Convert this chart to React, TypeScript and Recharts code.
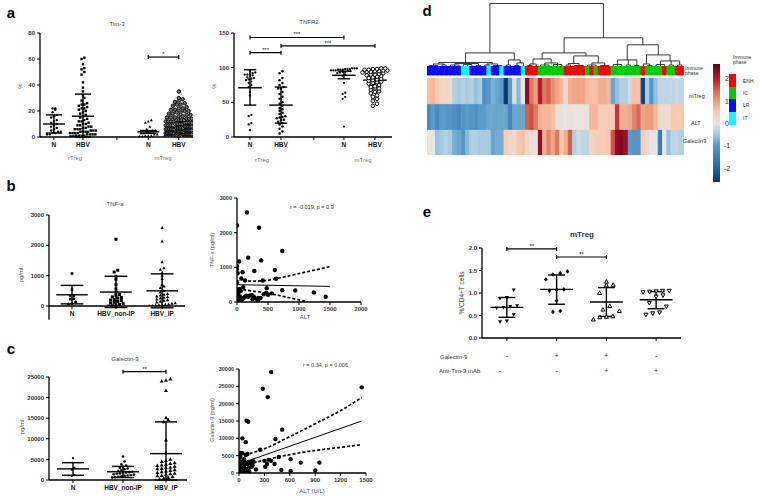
import React from 'react';
import {
  ScatterChart, Scatter, ComposedChart, Line, BarChart, Bar, Cell,
  XAxis, YAxis, ReferenceLine, ReferenceDot,
} from 'recharts';

const FONT = '"Liberation Sans", Arial, Helvetica, sans-serif';

// ---------- a: Tim-3 ----------
const tim3RTregN = [22, 22, 21, 19, 17, 16, 15, 13, 12, 11, 10, 9, 8, 7, 6, 5, 4, 4, 3, 3, 2, 2];
const tim3RTregHBV = [61, 60, 56, 53, 52, 50, 48, 42, 38, 35, 32, 30, 28, 26, 25, 25, 24, 23, 22, 22, 21, 20, 19, 18, 17, 16, 15, 14, 13, 12, 12, 11, 10, 10, 9, 9, 8, 8, 7, 7, 6, 6, 6, 5, 5, 5, 4, 4, 4, 4, 3, 3, 3, 3, 2, 2, 2, 2, 1, 1, 1, 1, 0.5, 0.5];
const tim3MTregN = [13, 12, 11, 8, 6, 5, 5, 4, 4, 3, 3, 2, 2, 1, 1, 1, 0.5, 0.5];
const tim3MTregHBV = [35, 30, 29, 28, 27, 26, 25, 25, 24, 23, 22, 22, 21, 21, 20, 20, 19, 19, 18, 18, 17, 17, 16, 16, 15, 15, 15, 14, 14, 14, 13, 13, 13, 13, 12, 12, 12, 12, 11, 11, 11, 11, 10, 10, 10, 10, 9, 9, 9, 9, 8, 8, 8, 8, 8, 7, 7, 7, 7, 7, 6, 6, 6, 6, 6, 6, 5, 5, 5, 5, 5, 5, 4, 4, 4, 4, 4, 4, 4, 3, 3, 3, 3, 3, 3, 3, 2, 2, 2, 2, 2, 2, 2, 1, 1, 1, 1, 1, 1, 1, 0.5, 0.5, 0.5, 0.5, 0.5];
const tim3Mean = [10, 16, 4, 9.5];
const tim3Low = [3, 0, 2.8, 7];
const tim3High = [17, 33, 5, 12];

// ---------- a: TNFR2 ----------
const tnfr2RTregN = [95, 93, 92, 91, 90, 90, 89, 88, 86, 85, 84, 83, 82, 80, 78, 75, 72, 65, 60, 32, 30, 20, 18, 10];
const tnfr2RTregHBV = [95, 92, 85, 82, 78, 75, 72, 70, 70, 65, 62, 58, 55, 50, 48, 45, 42, 40, 38, 35, 33, 30, 29, 28, 27, 25, 24, 22, 20, 18, 15, 12, 8, 5];
const tnfr2MTregN = [99, 99, 99, 98, 98, 98, 97, 97, 97, 96, 96, 96, 95, 95, 94, 94, 93, 92, 90, 88, 78, 64, 62, 58, 55, 15];
const tnfr2MTregHBV = [99, 99, 98, 98, 97, 97, 96, 96, 95, 95, 94, 94, 93, 92, 91, 90, 90, 89, 88, 87, 86, 85, 84, 83, 82, 81, 80, 79, 78, 77, 75, 73, 72, 70, 70, 68, 66, 65, 63, 60, 58, 55, 52, 48, 45];
const tnfr2Mean = [71, 46, 89, 82];
const tnfr2Low = [46, 20, 84, 74];
const tnfr2High = [97, 72, 95, 90];

// ---------- b: TNF-a ----------
const tnfN = [1070, 540, 350, 350, 240, 230, 130, 80, 70];
const tnfNonIP = [2200, 1180, 1120, 980, 880, 700, 560, 450, 380, 350, 300, 280, 260, 220, 200, 180, 150, 120, 100, 80, 50, 30, 10, 0];
const tnfIP = [2580, 2130, 1450, 1250, 1200, 1100, 1000, 900, 700, 650, 600, 500, 450, 400, 380, 350, 320, 300, 280, 250, 220, 200, 180, 150, 120, 100, 80, 60, 50, 40, 30, 20, 10, 5];
const tnfMean = [370, 460, 500];
const tnfLow = [70, -50, -60];
const tnfHigh = [680, 980, 1060];

const altB = [0, 160, 355, 35, 0, 0, 180, 390, 730, 610, 280, 10, 90, 130, 70, 0, 0, 415, 630, 100, 480, 40, 0, 60, 1430, 1240, 940, 730, 560, 500, 430, 350, 330, 300, 270, 240, 200, 180, 150, 130, 110, 90, 70, 50, 30, 10, 0, 0, 0, 20, 60, 250, 380, 470, 340, 20, 45];
const tnfB = [2210, 2580, 2140, 1170, 1040, 950, 1280, 1200, 1470, 925, 895, 830, 860, 620, 680, 580, 560, 620, 670, 430, 400, 380, 350, 320, 150, 275, 335, 340, 250, 210, 220, 120, 90, 100, 150, 200, 180, 150, 180, 150, 120, 90, 60, 40, 20, 10, 200, 100, 50, 250, 130, 80, 120, 270, 50, 300, 160];
const fitBX = [0, 1500];
const fitBY = [500, 450];
const upperBX = [100, 250, 450, 700, 1000, 1500];
const upperBY = [640, 600, 615, 700, 820, 1020];
const lowerBX = [20, 200, 400, 700, 1000, 1150];
const lowerBY = [380, 330, 280, 180, 60, 0];

// ---------- c: Galectin-9 ----------
const galN = [5300, 3000, 2500, 1200, 1000];
const galNonIP = [5700, 4500, 3800, 3500, 3200, 3000, 2800, 2600, 2400, 2200, 2000, 1900, 1800, 1700, 1600, 1500, 1400, 1300, 1200, 1100, 1000, 900, 800, 700, 600];
const galIP = [24500, 24200, 24000, 21700, 15100, 14600, 14100, 9700, 6600, 5000, 4700, 4500, 4200, 4000, 3800, 3600, 3500, 3300, 3100, 3000, 2800, 2700, 2500, 2300, 2200, 2000, 1800, 1600, 1500, 1300, 1100, 1000, 800, 600, 400, 200];
const galMean = [2700, 2000, 6400];
const galLow = [1150, 600, 0];
const galHigh = [4200, 3300, 14100];

const altC = [1450, 380, 280, 340, 90, 110, 510, 40, 80, 430, 250, 470, 610, 730, 950, 900, 500, 610, 420, 300, 330, 350, 380, 310, 200, 150, 160, 120, 100, 80, 60, 40, 20, 10, 0, 0, 0, 0, 0, 0, 20, 30, 40, 60, 70, 80, 100, 110, 120, 140, 150, 170, 50, 90, 30, 15];
const galC = [24700, 29100, 24300, 21900, 15100, 14800, 12500, 10000, 8900, 9800, 6700, 4600, 4000, 3000, 3000, 700, 900, 600, 2600, 3500, 2600, 3800, 3500, 1800, 1000, 3300, 2200, 1600, 5500, 5200, 4000, 5700, 5800, 4500, 3500, 2800, 2000, 1500, 1000, 500, 2500, 1500, 800, 2000, 3000, 1200, 2500, 3200, 500, 2800, 1800, 3400, 300, 600, 3300, 4800];
const fitCX = [0, 1450];
const fitCY = [2600, 15000];
const upperCX = [70, 300, 600, 900, 1200, 1450];
const upperCY = [5200, 7000, 10500, 14200, 18000, 21800];
const lowerCX = [0, 300, 600, 900, 1200, 1450];
const lowerCY = [1800, 3700, 5300, 6500, 7400, 8200];

// ---------- d: heatmap ----------
const immunePhase = [
  'LR', 'LR', 'LR', 'LR', 'LR', 'LR', 'LR', 'LR', 'IT', 'IT',
  'LR', 'LR', 'LR', 'LR', 'IT', 'LR', 'LR', 'IT', 'LR', 'LR',
  'LR', 'LR', 'IT', 'ENH', 'ENH', 'ENH', 'IC', 'IC', 'IC', 'IC',
  'IC', 'IC', 'ENH', 'ENH', 'ENH', 'ENH', 'ENH', 'IC', 'ENH', 'IC',
  'ENH', 'ENH', 'ENH', 'IC', 'IC', 'IC', 'IC', 'IC', 'IC', 'IC',
  'ENH', 'IC', 'IC', 'IC', 'IC', 'ENH', 'IC', 'IC', 'ENH', 'ENH',
];
const zMTreg = [
  0.6, 0.7, 0.5, 0.3, 0.3, 0.2, -0.4, -0.5, -0.4, -0.5,
  -0.4, -0.6, -0.5, -1.2, -1.1, -0.8, -0.9, -1.0, -2.6, -1.0,
  -0.1, -0.7, 0.0, 2.3, 1.3, 1.0, 2.0, 1.3, 1.5, 1.1,
  0.9, 0.7, 0.2, 0.8, 0.9, 0.9, 0.9, 0.7, 0.6, 0.6,
  0.8, 0.8, 0.7, -0.9, -0.6, -0.4, -0.4, -0.2, 0.6, 0.6,
  -2.5, -0.5, -1.1, -0.6, -0.3, -0.3, -0.3, -0.3, -0.25, -0.3,
];
const zALT = [
  -1.3, -1.0, -1.3, -1.0, -1.1, -1.1, -1.2, -1.3, -1.1, -1.0,
  -1.1, -1.2, -1.0, -1.0, -0.9, -0.9, -0.9, -0.9, -0.9, -1.4,
  -0.9, -0.9, -0.9, 1.5, 1.6, 1.3, 0.8, 0.7, 0.7, 0.6,
  0.1, 0.05, 0.0, 0.05, 0.0, 0.05, 0.05, 0.05, 0.7, 0.7,
  0.4, 0.4, 0.4, 0.4, 1.8, 0.8, 0.8, 0.9, 1.2, 1.4,
  0.9, 1.0, 1.0, 0.7, 0.2, 0.15, 0.2, 0.5, 0.5, 0.5,
];
const zGal9 = [
  0.0, 0.0, -0.6, -0.5, -0.4, -0.5, -0.8, -0.9, -1.1, -0.7,
  -0.4, -0.4, -0.5, -0.5, -0.5, -0.9, -0.8, -0.8, 0.4, 0.3,
  0.2, 0.5, 0.6, 0.3, 0.1, 0.05, 2.3, 0.8, 1.2, 0.9,
  1.3, 0.5, 0.8, 1.5, -0.4, -0.2, -0.3, -0.3, 0.3, 0.4,
  0.4, 0.4, 0.5, 1.6, 2.3, 2.4, 2.2, -1.0, -1.1, -1.1,
  0.4, 0.2, 0.0, 0.0, -1.6, 0.0, -0.6, -0.3, -0.3, -0.4,
];
// [height, ...children]; a bare number is a leaf (column index)
const dendroTree: any = [63,
  [14,
    [4.5, [3, [1.5, 0, 1, 2], [2, 3, 4]], [3.5, [2, 5, 6, 7], [2.5, 8, 9, 10], [1.5, 11, 12]], [3, [2, 13, 14], [1.5, 15, 16, 17]]],
    [7, [2, 18, 19], [4, [1.5, 20, 21], 22]]],
  [29,
    [14,
      [8, [3, [1.5, 23, 24], 25], [4, [2, 26, 27, 28], [2.5, 29, 30, 31]]],
      [11, [3.5, [2, 32, 33], [1.5, 34, 35, 36]], [4, [2, 37, 38, 39], [1.5, 40, 41, 42]]]],
    [22,
      [7, [2.5, 43, 44, 45], [2, 46, 47], [1.5, 48, 49]],
      [12, [3, 50, [1.5, 51, 52]], [6, [2.5, 53, 54, 55], [2, 56, 57], [2, 58, 59]]]]]];
const phaseNames = ['ENH', 'IC', 'LR', 'IT'];
const phaseColors: any = { ENH: '#ff0000', IC: '#00cc00', LR: '#0a0aff', IT: '#00ffff' };
const scaleTicks = [2, 1, 0, -1, -2];

// ---------- e: mTreg ----------
const eGal = ['-', '+', '+', '-'];
const eAnti = ['-', '-', '+', '+'];
const eG1 = [1.07, 0.9, 0.88, 0.72, 0.70, 0.68, 0.67, 0.52, 0.38, 0.36];
const eG2 = [1.48, 1.44, 1.41, 1.3, 1.08, 1.07, 1.05, 0.83, 0.6, 0.58];
const eG3 = [1.25, 1.18, 1.17, 1.0, 0.71, 0.63, 0.6, 0.48, 0.47, 0.46, 0.41];
const eG4 = [1.05, 1.05, 1.04, 1.03, 1.02, 0.95, 0.92, 0.78, 0.7, 0.57, 0.55, 0.52];
const eMean = [0.68, 1.08, 0.8, 0.85];
const eLow = [0.46, 0.75, 0.48, 0.65];
const eHigh = [0.9, 1.4, 1.12, 1.03];

// ---------- helpers ----------
const axisLine = { stroke: '#000', strokeWidth: 1.3 };
const tickLine = { stroke: '#000', strokeWidth: 1 };
const tickFont = { fontSize: 6, fontWeight: 700, fill: '#333', fontFamily: FONT };

const zStops: [number, string][] = [
  [-2.6, '#0a3a6b'], [-2, '#2166ac'], [-1, '#5b9bc9'], [-0.5, '#a6cbe3'], [0, '#e8e4e2'],
  [0.5, '#f9c9ae'], [1, '#ec9c7d'], [1.5, '#d4604f'], [2, '#b31b2c'], [2.6, '#6b0019'],
];
function hex(c: string) { return [1, 3, 5].map((i) => parseInt(c.slice(i, i + 2), 16)); }
function zColor(v: number) {
  if (v <= zStops[0][0]) return zStops[0][1];
  for (let i = 1; i < zStops.length; i++) {
    if (v <= zStops[i][0]) {
      const [a, ca] = zStops[i - 1]; const [b, cb] = zStops[i];
      const t = (v - a) / (b - a);
      const A = hex(ca), B = hex(cb);
      return `rgb(${A.map((x, k) => Math.round(x + (B[k] - x) * t)).join(',')})`;
    }
  }
  return zStops[zStops.length - 1][1];
}

function swarm(values: number[], pos: number, binV: number, stepX: number, maxHalf: number) {
  const sorted = [...values].sort((a, b) => a - b);
  const rows: number[][] = [];
  let cur: number[] = [];
  let start = -Infinity;
  sorted.forEach((v) => {
    if (v - start > binV) { if (cur.length) rows.push(cur); cur = [v]; start = v; } else cur.push(v);
  });
  if (cur.length) rows.push(cur);
  const pts: { x: number; y: number }[] = [];
  rows.forEach((row) => {
    const n = row.length;
    const s = n > 1 ? Math.min(stepX, (2 * maxHalf) / (n - 1)) : 0;
    row.forEach((v, j) => pts.push({ x: pos + (j - (n - 1) / 2) * s, y: v }));
  });
  return pts;
}

function marker(kind: string, s: number) {
  return (p: any) => {
    const { cx, cy } = p;
    if (cx == null || cy == null) return <g />;
    const r = s / 2;
    const up = `M${cx},${cy - r * 1.2}L${cx + r * 1.1},${cy + r * 0.8}L${cx - r * 1.1},${cy + r * 0.8}Z`;
    const dn = `M${cx},${cy + r * 1.2}L${cx + r * 1.1},${cy - r * 0.8}L${cx - r * 1.1},${cy - r * 0.8}Z`;
    switch (kind) {
      case 'none': return <g />;
      case 'square': return <rect x={cx - r} y={cy - r} width={s} height={s} fill="#000" />;
      case 'tri': return <path d={up} fill="#000" />;
      case 'itri': return <path d={dn} fill="#000" />;
      case 'otri': return <path d={up} fill="#fff" stroke="#000" strokeWidth={1} />;
      case 'oitri': return <path d={dn} fill="#fff" stroke="#000" strokeWidth={1} />;
      case 'diamond': return <path d={`M${cx},${cy - r * 1.2}L${cx + r},${cy}L${cx},${cy + r * 1.2}L${cx - r},${cy}Z`} fill="#000" />;
      case 'ocircle': return <circle cx={cx} cy={cy} r={r} fill="#fff" stroke="#000" strokeWidth={1} />;
      case 'gcircle': return <circle cx={cx} cy={cy} r={r} fill="#777" stroke="#000" strokeWidth={1} />;
      default: return <circle cx={cx} cy={cy} r={r} fill="#000" />;
    }
  };
}

function zip(xs: number[], ys: number[]) { return xs.map((x, i) => ({ x, y: ys[i] })); }

function T({ x, y, s = 6, w = 400, c = '#222', a = 'middle', r = 0, children }: any) {
  const tx = a === 'middle' ? '-50%' : a === 'end' ? '-100%' : '0';
  return (
    <div style={{
      position: 'absolute', left: x, top: y, fontSize: s, fontWeight: w, color: c, whiteSpace: 'nowrap',
      lineHeight: 1, fontFamily: FONT, transform: `translate(${tx}, -50%) rotate(${r}deg)`,
    }}>{children}</div>
  );
}

function DotPlot({ cfg }: { cfg: any }) {
  const padL = 36, padT = 16, padR = 8, axH = 14;
  const [xa, xb] = cfg.xDomain; const [ya, yb] = cfg.yDomain;
  const xu = (xb - xa) / cfg.w;
  const yu = (yb - ya) / cfg.h;
  const tv = 2 * yu;
  return (
    <div style={{ position: 'absolute', left: cfg.x0 - padL, top: cfg.y0 - padT }}>
      <ScatterChart width={cfg.w + padL + padR} height={cfg.h + padT + axH} margin={{ top: padT, right: padR, bottom: 0, left: 0 }}>
        <XAxis type="number" dataKey="x" domain={cfg.xDomain} ticks={cfg.xTicks} interval={0} allowDataOverflow
          tickFormatter={(v: number) => cfg.xLabels[cfg.xTicks.indexOf(v)] ?? ''} height={axH} tickSize={3}
          tick={{ ...tickFont, fontSize: 6.5, fill: '#111' }} axisLine={axisLine} tickLine={tickLine} />
        <YAxis type="number" dataKey="y" domain={cfg.yDomain} ticks={cfg.yTicks} interval={0} allowDataOverflow
          width={padL} tickSize={3} tick={tickFont} axisLine={axisLine} tickLine={tickLine} tickFormatter={cfg.yFmt} />
        {cfg.groups.map((g: any, i: number) => (
          <Scatter key={`s${i}`} data={swarm(g.values, g.pos, cfg.binPx * yu, g.size * cfg.stepK * xu, cfg.spreadPx * xu)}
            shape={marker(g.shape, g.size)} isAnimationActive={false} />
        ))}
        {cfg.groups.map((g: any, i: number) => [
          <ReferenceLine key={`m${i}`} segment={[{ x: g.pos - cfg.meanHalf, y: g.mean }, { x: g.pos + cfg.meanHalf, y: g.mean }]} stroke="#000" strokeWidth={1.4} ifOverflow="visible" />,
          <ReferenceLine key={`h${i}`} segment={[{ x: g.pos - cfg.capHalf, y: g.high }, { x: g.pos + cfg.capHalf, y: g.high }]} stroke="#000" strokeWidth={1.4} ifOverflow="visible" />,
          <ReferenceLine key={`l${i}`} segment={[{ x: g.pos - cfg.capHalf, y: g.low }, { x: g.pos + cfg.capHalf, y: g.low }]} stroke="#000" strokeWidth={1.4} ifOverflow="visible" />,
          <ReferenceLine key={`v${i}`} segment={[{ x: g.pos, y: g.low }, { x: g.pos, y: g.high }]} stroke="#000" strokeWidth={1.4} ifOverflow="visible" />,
        ])}
        {(cfg.brackets || []).map((b: any, i: number) => [
          <ReferenceLine key={`b${i}`} segment={[{ x: b.x1, y: b.y }, { x: b.x2, y: b.y }]} stroke="#000" strokeWidth={1.2} ifOverflow="visible" />,
          <ReferenceLine key={`bl${i}`} segment={[{ x: b.x1, y: b.y - tv }, { x: b.x1, y: b.y + tv }]} stroke="#000" strokeWidth={1.2} ifOverflow="visible" />,
          <ReferenceLine key={`br${i}`} segment={[{ x: b.x2, y: b.y - tv }, { x: b.x2, y: b.y + tv }]} stroke="#000" strokeWidth={1.2} ifOverflow="visible" />,
          <ReferenceDot key={`bt${i}`} x={(b.x1 + b.x2) / 2} y={b.y} r={0.01} fill="none" stroke="none" ifOverflow="visible"
            label={{ value: b.label, position: 'top', offset: 1, fontSize: 6, fill: '#222', fontFamily: FONT }} />,
        ])}
        {cfg.axisExt != null && (
          <ReferenceLine segment={[{ x: xa, y: ya }, { x: xa, y: cfg.axisExt }]} stroke="#000" strokeWidth={1.3} ifOverflow="visible" />
        )}
      </ScatterChart>
    </div>
  );
}

function CorrPlot({ cfg }: { cfg: any }) {
  const padL = 34, padT = 8, padR = 10, axH = 14;
  return (
    <div style={{ position: 'absolute', left: cfg.x0 - padL, top: cfg.y0 - padT }}>
      <ComposedChart width={cfg.w + padL + padR} height={cfg.h + padT + axH} margin={{ top: padT, right: padR, bottom: 0, left: 0 }}>
        <XAxis type="number" dataKey="x" domain={cfg.xDomain} ticks={cfg.xTicks} interval={0} allowDataOverflow height={axH}
          tickSize={3} tick={tickFont} axisLine={axisLine} tickLine={tickLine} />
        <YAxis type="number" dataKey="y" domain={cfg.yDomain} ticks={cfg.yTicks} interval={0} allowDataOverflow width={padL}
          tickSize={3} tick={{ ...tickFont, fontSize: 5.5 }} axisLine={axisLine} tickLine={tickLine} />
        <Scatter data={cfg.points} shape={marker('circle', 4.4)} isAnimationActive={false} />
        <Line data={cfg.fit} dataKey="y" type="linear" stroke="#000" strokeWidth={1} dot={false} isAnimationActive={false} />
        <Line data={cfg.upper} dataKey="y" type="monotone" stroke="#000" strokeWidth={1.7} strokeDasharray="3 2" dot={false} isAnimationActive={false} />
        <Line data={cfg.lower} dataKey="y" type="monotone" stroke="#000" strokeWidth={1.7} strokeDasharray="3 2" dot={false} isAnimationActive={false} />
      </ComposedChart>
    </div>
  );
}

function group(pos: number[], vals: number[][], shapes: string[], sizes: number[], mean: number[], low: number[], high: number[]) {
  return pos.map((p, i) => ({ pos: p, values: vals[i], shape: shapes[i], size: sizes[i], mean: mean[i], low: low[i], high: high[i] }));
}

const tim3Cfg = {
  x0: 40, y0: 33, w: 153, h: 104, xDomain: [0.52, 5.79], xTicks: [1, 2, 3.17, 4.25, 5.3], xLabels: ['N', 'HBV', '', 'N', 'HBV'],
  yDomain: [0, 80], yTicks: [0, 20, 40, 60, 80], binPx: 2.6, stepK: 1.15, spreadPx: 13, meanHalf: 0.38, capHalf: 0.28,
  groups: group([1, 2, 4.25, 5.3], [tim3RTregN, tim3RTregHBV, tim3MTregN, tim3MTregHBV], ['circle', 'square', 'tri', 'gcircle'], [2.4, 2.4, 2.6, 3.4], tim3Mean, tim3Low, tim3High),
  brackets: [{ x1: 4.25, x2: 5.3, y: 61.5, label: '*' }],
};
const tnfr2Cfg = {
  x0: 234, y0: 33, w: 158, h: 104, xDomain: [0.484, 5.58], xTicks: [1, 2, 3.06, 4.03, 5.03], xLabels: ['N', 'HBV', '', 'N', 'HBV'],
  yDomain: [0, 150], yTicks: [0, 50, 100, 150], binPx: 2.6, stepK: 1.15, spreadPx: 13, meanHalf: 0.38, capHalf: 0.2,
  groups: group([1, 2, 4.03, 5.03], [tnfr2RTregN, tnfr2RTregHBV, tnfr2MTregN, tnfr2MTregHBV], ['circle', 'circle', 'circle', 'ocircle'], [2.3, 2.5, 2.3, 3.6], tnfr2Mean, tnfr2Low, tnfr2High),
  brackets: [{ x1: 1, x2: 4.03, y: 143.5, label: '***' }, { x1: 2, x2: 5.03, y: 131.5, label: '***' }, { x1: 1, x2: 2, y: 121.6, label: '***' }],
};
const tnfCfg = {
  x0: 49, y0: 215, w: 136, h: 91, xDomain: [0.477, 3.57], xTicks: [1, 2, 3.05], xLabels: ['N', 'HBV_non-IP', 'HBV_IP'],
  yDomain: [0, 3000], yTicks: [0, 1000, 2000, 3000], binPx: 3, stepK: 1.2, spreadPx: 13, meanHalf: 0.36, capHalf: 0.26, axisExt: -450,
  groups: group([1, 2, 3.05], [tnfN, tnfNonIP, tnfIP], ['circle', 'square', 'tri'], [3, 3, 3], tnfMean, tnfLow, tnfHigh),
};
const galCfg = {
  x0: 49, y0: 377, w: 138, h: 103, xDomain: [0.52, 3.28], xTicks: [1, 2, 2.86], xLabels: ['N', 'HBV_non-IP', 'HBV_IP'],
  yDomain: [0, 25000], yTicks: [0, 5000, 10000, 15000, 20000, 25000], binPx: 3, stepK: 1.2, spreadPx: 13, meanHalf: 0.32, capHalf: 0.22,
  groups: group([1, 2, 2.86], [galN, galNonIP, galIP], ['circle', 'circle', 'tri'], [2.2, 2.6, 3.6], galMean, galLow, galHigh),
  brackets: [{ x1: 2, x2: 2.86, y: 26290, label: '**' }],
};
const eCfg = {
  x0: 482, y0: 248, w: 199, h: 90, xDomain: [0.5, 4.5], xTicks: [1, 2, 3, 4], xLabels: ['', '', '', ''],
  yDomain: [0, 2], yTicks: [0, 0.5, 1, 1.5, 2], yFmt: (v: number) => v.toFixed(1),
  binPx: 9, stepK: 1.9, spreadPx: 13, meanHalf: 0.33, capHalf: 0.17,
  groups: group([1, 2, 3, 4], [eG1, eG2, eG3, eG4], ['itri', 'diamond', 'otri', 'oitri'], [3.6, 3.8, 3.6, 3.6], eMean, eLow, eHigh),
  brackets: [{ x1: 1, x2: 2, y: 1.98, label: '**' }, { x1: 2, x2: 3, y: 1.8, label: '**' }],
};
const corrB = {
  x0: 237, y0: 198, w: 124, h: 104, xDomain: [0, 2000], xTicks: [0, 500, 1000, 1500, 2000], yDomain: [0, 3000], yTicks: [0, 1000, 2000, 3000],
  points: zip(altB, tnfB), fit: zip(fitBX, fitBY), upper: zip(upperBX, upperBY), lower: zip(lowerBX, lowerBY),
};
const corrC = {
  x0: 239, y0: 369, w: 127, h: 104, xDomain: [0, 1500], xTicks: [0, 300, 600, 900, 1200, 1500], yDomain: [0, 30000], yTicks: [0, 5000, 10000, 15000, 20000, 25000, 30000],
  points: zip(altC, galC), fit: zip(fitCX, fitCY), upper: zip(upperCX, upperCY), lower: zip(lowerCX, lowerCY),
};

function Dendrogram() {
  const segs: number[][] = [];
  const lay = (node: any): { x: number; h: number } => {
    if (typeof node === 'number') return { x: node + 0.5, h: 0 };
    const [h, ...kids] = node;
    const cs = kids.map(lay);
    const xs = cs.map((c: any) => c.x);
    const lo = Math.min(...xs), hi = Math.max(...xs);
    segs.push([lo, h, hi, h]);
    cs.forEach((c: any) => segs.push([c.x, c.h, c.x, h]));
    return { x: (lo + hi) / 2, h };
  };
  lay(dendroTree);
  const leaves = immunePhase.map((_, i) => ({ x: i + 0.5, y: 0 }));
  return (
    <div style={{ position: 'absolute', left: 427, top: 2.5 }}>
      <ComposedChart width={257} height={64} margin={{ top: 0, right: 0, bottom: 0, left: 0 }}>
        <XAxis type="number" dataKey="x" domain={[0, 60]} hide />
        <YAxis type="number" dataKey="y" domain={[0, 63.5]} hide />
        <Scatter data={leaves} shape={marker('none', 1)} isAnimationActive={false} />
        {segs.map((s, i) => (
          <ReferenceLine key={i} segment={[{ x: s[0], y: s[1] }, { x: s[2], y: s[3] }]} stroke="#222" strokeWidth={0.9} ifOverflow="visible" />
        ))}
      </ComposedChart>
    </div>
  );
}

function Heatmap() {
  const rows = immunePhase.map((p, i) => ({ col: i, gal: 1, alt: 1, mt: 1, gap: 0.117, ph: 0.35 }));
  const cells = (vals: number[]) => vals.map((v, i) => <Cell key={i} fill={zColor(v)} stroke={zColor(v)} strokeWidth={1} />);
  return (
    <div style={{ position: 'absolute', left: 427, top: 66 }}>
      <BarChart width={257} height={89} data={rows} margin={{ top: 0, right: 0, bottom: 0, left: 0 }} barCategoryGap={0} barGap={0}>
        <XAxis dataKey="col" hide />
        <YAxis type="number" domain={[0, 3.467]} hide allowDataOverflow />
        <Bar dataKey="gal" stackId="h" isAnimationActive={false}>{cells(zGal9)}</Bar>
        <Bar dataKey="alt" stackId="h" isAnimationActive={false}>{cells(zALT)}</Bar>
        <Bar dataKey="mt" stackId="h" isAnimationActive={false}>{cells(zMTreg)}</Bar>
        <Bar dataKey="gap" stackId="h" fill="#fff" isAnimationActive={false} />
        <Bar dataKey="ph" stackId="h" isAnimationActive={false}>
          {immunePhase.map((p, i) => <Cell key={i} fill={phaseColors[p]} stroke={phaseColors[p]} strokeWidth={1} />)}
        </Bar>
      </BarChart>
    </div>
  );
}

export default function App() {
  const grad = `linear-gradient(to bottom, ${[...zStops].reverse().map(([v, c]) => `${c} ${((2.65 - v) / 5.3) * 100}%`).join(', ')})`;
  return (
    <div style={{ position: 'absolute', left: 0, top: 0, width: 760, height: 497, background: '#fff', overflow: 'hidden', fontFamily: FONT }}>
      <T x={11} y={12} s={15} w={700} c="#000">a</T>
      <T x={11} y={185} s={15} w={700} c="#000">b</T>
      <T x={11} y={348} s={15} w={700} c="#000">c</T>
      <T x={427} y={10} s={15} w={700} c="#000">d</T>
      <T x={427} y={211} s={15} w={700} c="#000">e</T>

      {/* a */}
      <T x={117} y={24} s={6} c="#444">Tim-3</T>
      <T x={309} y={22} s={6} c="#444">TNFR2</T>
      <T x={20} y={86} s={6} c="#555" r={-90}>%</T>
      <T x={214} y={86} s={6} c="#555" r={-90}>%</T>
      <DotPlot cfg={tim3Cfg} />
      <DotPlot cfg={tnfr2Cfg} />
      <T x={75} y={158} s={6} c="#777">rTreg</T>
      <T x={163} y={158} s={6} c="#777">mTreg</T>
      <T x={262} y={160} s={6} c="#777">rTreg</T>
      <T x={363} y={160} s={6} c="#777">mTreg</T>

      {/* b */}
      <T x={115} y={204} s={6} c="#444">TNF-a</T>
      <T x={21} y={275} s={6} c="#555" r={-90}>pg/ml</T>
      <DotPlot cfg={tnfCfg} />
      <T x={213} y={250} s={5.5} c="#555" r={-90}>TNF-a (pg/ml)</T>
      <T x={290} y={208} s={5.5} c="#333" a="start">r = -0.019, p = 0.9</T>
      <CorrPlot cfg={corrB} />
      <T x={305} y={317} s={6} c="#555">ALT</T>

      {/* c */}
      <T x={125} y={359} s={6} c="#444">Galectin-9</T>
      <T x={22} y={427} s={6} c="#555" r={-90}>pg/ml</T>
      <DotPlot cfg={galCfg} />
      <T x={213} y={420} s={5.5} c="#555" r={-90}>Galectin-9 (pg/ml)</T>
      <T x={303} y={366} s={5.5} c="#333" a="start">r = 0.34, p = 0.006</T>
      <CorrPlot cfg={corrC} />
      <T x={312} y={491} s={6} c="#555">ALT (U/L)</T>

      {/* d */}
      <Dendrogram />
      <Heatmap />
      <T x={685} y={68} s={5} c="#333" a="start">Immune</T>
      <T x={685} y={73} s={5} c="#333" a="start">phase</T>
      <T x={689} y={97} s={5.5} c="#333" a="start">mTreg</T>
      <T x={691} y={124} s={5.5} c="#333" a="start">ALT</T>
      <T x={683} y={142} s={5.5} c="#333" a="start">Galectin9</T>
      <div style={{ position: 'absolute', left: 713, top: 64, width: 7, height: 118, background: grad }} />
      {scaleTicks.map((v) => (
        <T key={v} x={727} y={123 - v * 22.3} s={7} c="#333">{v}</T>
      ))}
      <T x={733} y={57} s={5} c="#333" a="start">Immune</T>
      <T x={733} y={62} s={5} c="#333" a="start">phase</T>
      {phaseNames.map((p, i) => (
        <React.Fragment key={p}>
          <div style={{ position: 'absolute', left: 729, top: 74 + i * 12.7, width: 7, height: 12.7, background: phaseColors[p] }} />
          <T x={743} y={81 + i * 12.2} s={5} c="#333" a="start">{p}</T>
        </React.Fragment>
      ))}

      {/* e */}
      <T x={582} y={235} s={8} w={700} c="#333">mTreg</T>
      <T x={462} y={293} s={6.5} c="#333" r={-90}>%/CD4+T cells</T>
      <DotPlot cfg={eCfg} />
      <T x={440} y={357} s={6} c="#333" a="start">Galectin-9</T>
      <T x={439} y={371} s={6} c="#333" a="start">Anti-Tim-3 mAb</T>
      {eGal.map((g, i) => <T key={`g${i}`} x={507 + i * 49.7} y={355} s={7} c="#333">{g}</T>)}
      {eAnti.map((g, i) => <T key={`a${i}`} x={(i === 0 ? 500 : 507 + i * 49.7)} y={370} s={7} c="#333">{g}</T>)}
    </div>
  );
}
